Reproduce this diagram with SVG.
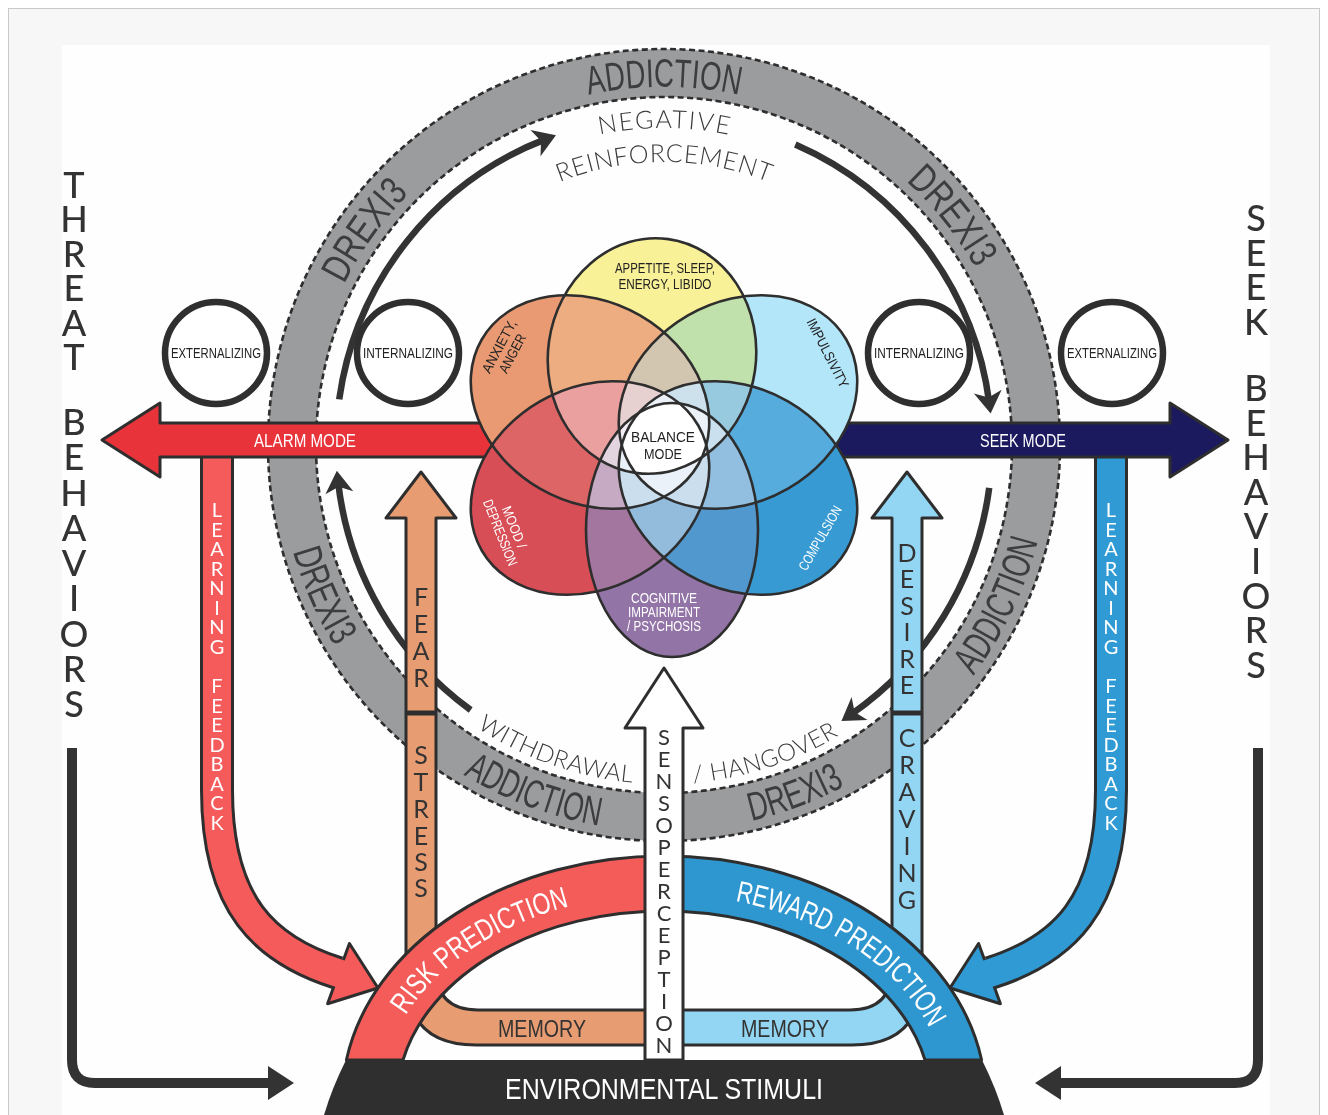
<svg xmlns="http://www.w3.org/2000/svg" width="1328" height="1115" viewBox="0 0 1328 1115">
<style>
  .cond{font-family:"Liberation Sans Narrow","Liberation Sans","DejaVu Sans Condensed",Roboto,sans-serif;font-stretch:condensed}
  .thin{font-family:Lato,"Open Sans","DejaVu Sans",sans-serif;font-weight:300;fill:#3a3a3a}
  .stack{font-family:Lato,"Liberation Sans","DejaVu Sans",sans-serif;text-anchor:middle}
  .big{font-weight:500}
  .ringtxt{fill:#3d3d3e;font-size:40px;text-anchor:middle}
  .out{stroke:#2e2e2e;stroke-width:3;stroke-linejoin:round}
  .edge{fill:none;stroke:#2e2e2e;stroke-width:2.6}
  .dash{fill:none;stroke:#2e2e2e;stroke-width:2.6;stroke-dasharray:6 3.5}
  .circ{fill:#fff;stroke:#2f2f2f;stroke-width:6.5}
  .arc{fill:none;stroke:#333;stroke-width:6.5;marker-end:url(#ah)}
  .ptxt{font-size:14px;text-anchor:middle;fill:#222}
  .wtxt{font-size:14px;text-anchor:middle;fill:#fff}
  .white{fill:#fff}
  .mid{text-anchor:middle}
</style>
<defs>
  <marker id="ah" markerUnits="userSpaceOnUse" markerWidth="40" markerHeight="40" viewBox="-20 -20 40 40" refX="0" refY="0" orient="auto" overflow="visible">
    <path d="M11,0 L-11,-14 L-5,0 L-11,14 Z" fill="#333"/>
  </marker>
  <!-- text paths around the ring (centre 664,445) -->
  <path id="cw358" d="M306,445 A358 358 0 1 1 1022,445 A358 358 0 1 1 306,445"/>
  <path id="ccw386" d="M278,445 A386 386 0 1 0 1050,445 A386 386 0 1 0 278,445"/>
  <path id="cw317" d="M347,445 A317 317 0 1 1 981,445 A317 317 0 1 1 347,445"/>
  <path id="cw283" d="M381,445 A283 283 0 1 1 947,445 A283 283 0 1 1 381,445"/>
  <path id="ccw339" d="M325,445 A339 339 0 1 0 1003,445 A339 339 0 1 0 325,445"/>
  <!-- path along the prediction arch -->
  <path id="arch" d="M380.5,1100 A283.5 205.5 0 0 1 947.5,1100"/>
  <!-- flower petals -->
  <ellipse id="eY" cx="652" cy="356" rx="118" ry="104" transform="rotate(-82 652 356)"/>
  <ellipse id="eB" cx="738" cy="402" rx="125" ry="100" transform="rotate(-30 738 402)"/>
  <ellipse id="eC" cx="738" cy="488" rx="125" ry="100" transform="rotate(30 738 488)"/>
  <ellipse id="eP" cx="672" cy="530" rx="127" ry="86" transform="rotate(90 672 530)"/>
  <ellipse id="eR" cx="590" cy="488" rx="125" ry="100" transform="rotate(-30 590 488)"/>
  <ellipse id="eO" cx="590" cy="402" rx="125" ry="100" transform="rotate(30 590 402)"/>
  <clipPath id="cY"><use href="#eY"/></clipPath>
  <clipPath id="cB"><use href="#eB"/></clipPath>
  <clipPath id="cC"><use href="#eC"/></clipPath>
  <clipPath id="cP"><use href="#eP"/></clipPath>
  <clipPath id="cR"><use href="#eR"/></clipPath>
</defs>

<!-- page -->
<rect width="1328" height="1115" fill="#fff"/>
<rect x="8.5" y="8.5" width="1311" height="1120" fill="#f7f7f7" stroke="#c9c9c9"/>
<rect x="62" y="45" width="1208" height="1075" fill="#fefefe"/>

<!-- addiction ring -->
<g id="ring">
  <circle cx="664" cy="445" r="372" fill="none" stroke="#9b9c9e" stroke-width="48"/>
  <circle class="dash" cx="664" cy="445" r="396"/>
  <circle class="dash" cx="664" cy="445" r="348"/>
  <text class="cond ringtxt" textLength="112" lengthAdjust="spacingAndGlyphs"><textPath href="#cw358" startOffset="9.9%">DREXI3</textPath></text>
  <text class="cond ringtxt" textLength="152" lengthAdjust="spacingAndGlyphs"><textPath href="#cw358" startOffset="25%">ADDICTION</textPath></text>
  <text class="cond ringtxt" textLength="112" lengthAdjust="spacingAndGlyphs"><textPath href="#cw358" startOffset="39.3%">DREXI3</textPath></text>
  <text class="cond ringtxt" textLength="104" lengthAdjust="spacingAndGlyphs"><textPath href="#ccw386" startOffset="6.6%">DREXI3</textPath></text>
  <text class="cond ringtxt" textLength="146" lengthAdjust="spacingAndGlyphs"><textPath href="#ccw386" startOffset="19.3%">ADDICTION</textPath></text>
  <text class="cond ringtxt" textLength="100" lengthAdjust="spacingAndGlyphs"><textPath href="#ccw386" startOffset="30.7%">DREXI3</textPath></text>
  <text class="cond ringtxt" textLength="150" lengthAdjust="spacingAndGlyphs"><textPath href="#ccw386" startOffset="42.9%">ADDICTION</textPath></text>
</g>

<!-- reinforcement cycle -->
<g id="cycle">
  <path class="arc" d="M339.2,399.4 A328 328 0 0 1 545.7,139.1"/>
  <path class="arc" d="M795.3,144.5 A328 328 0 0 1 989.2,402.5"/>
  <path class="arc" d="M989.2,487.8 A328 328 0 0 1 850.5,714.8"/>
  <path class="arc" d="M470.7,710 A328 328 0 0 1 338.1,481.8"/>
  <text class="thin mid" font-size="25" textLength="130"><textPath href="#cw317" startOffset="25%">NEGATIVE</textPath></text>
  <text class="thin mid" font-size="25" textLength="214"><textPath href="#cw283" startOffset="25%">REINFORCEMENT</textPath></text>
  <text class="thin mid" font-size="24" textLength="166"><textPath href="#ccw339" startOffset="19.6%">WITHDRAWAL</textPath></text>
  <text class="thin mid" font-size="24" textLength="154"><textPath href="#ccw339" startOffset="30%">/ HANGOVER</textPath></text>
</g>

<!-- learning feedback loops -->
<g id="learning-left">
  <path d="M217,455 L217,790 C217,905 265,950 338,973" fill="none" stroke="#2e2e2e" stroke-width="34"/>
  <path d="M378,988 L349.4,943.5 L327.6,1003.7 Z" fill="#f45b5a" class="out"/>
  <path d="M217,455 L217,790 C217,905 265,950 338,973 L346,975.5" fill="none" stroke="#f45b5a" stroke-width="28"/>
  <text class="stack white" font-size="20" x="217 217 217 217 217 217 217 217 217 217 217 217 217 217 217 217" y="517 536.5 556 575.5 595 614.5 634 653.5 693 712.5 732 751.5 771 790.5 810 829.5">LEARNINGFEEDBACK</text>
</g>
<g id="learning-right">
  <path d="M1111,455 L1111,790 C1111,905 1063,950 990,973" fill="none" stroke="#2e2e2e" stroke-width="34"/>
  <path d="M950,988 L978.6,943.5 L1000.4,1003.7 Z" fill="#2f9ad3" class="out"/>
  <path d="M1111,455 L1111,790 C1111,905 1063,950 990,973 L982,975.5" fill="none" stroke="#2f9ad3" stroke-width="28"/>
  <text class="stack white" font-size="20" x="1111 1111 1111 1111 1111 1111 1111 1111 1111 1111 1111 1111 1111 1111 1111 1111" y="517 536.5 556 575.5 595 614.5 634 653.5 693 712.5 732 751.5 771 790.5 810 829.5">LEARNINGFEEDBACK</text>
</g>

<!-- mode arrows -->
<g id="alarm-mode">
  <path d="M102,440 L160,403 L160,423 L497,423 L497,457 L160,457 L160,477 Z" fill="#e8333b" class="out"/>
  <text class="cond white mid" x="305" y="447" font-size="18" textLength="102" lengthAdjust="spacingAndGlyphs">ALARM MODE</text>
</g>
<g id="seek-mode">
  <path d="M1228,440 L1170,403 L1170,423 L830,423 L830,457 L1170,457 L1170,477 Z" fill="#1b1a5e" class="out"/>
  <text class="cond white mid" x="1023" y="447" font-size="18" textLength="86" lengthAdjust="spacingAndGlyphs">SEEK MODE</text>
</g>

<!-- symptom flower -->
<g id="flower">
  <use href="#eY" fill="#fff"/><use href="#eB" fill="#fff"/><use href="#eC" fill="#fff"/>
  <use href="#eP" fill="#fff"/><use href="#eR" fill="#fff"/><use href="#eO" fill="#fff"/>
  <use href="#eY" fill="#f8ee7e" fill-opacity=".8"/>
  <use href="#eO" fill="#e48150" fill-opacity=".8"/>
  <use href="#eR" fill="#ce222c" fill-opacity=".8"/>
  <use href="#eB" fill="#9adef6" fill-opacity=".75" style="mix-blend-mode:multiply"/>
  <use href="#eP" fill="#775191" fill-opacity=".8"/>
  <use href="#eC" fill="#007ec7" fill-opacity=".78"/>
  <!-- overlaps get paler toward the middle -->
  <g fill="#fff" fill-opacity=".22">
    <g clip-path="url(#cY)"><use href="#eB"/><use href="#eC"/><use href="#eP"/><use href="#eR"/><use href="#eO"/></g>
    <g clip-path="url(#cB)"><use href="#eC"/><use href="#eP"/><use href="#eR"/><use href="#eO"/></g>
    <g clip-path="url(#cC)"><use href="#eP"/><use href="#eR"/><use href="#eO"/></g>
    <g clip-path="url(#cP)"><use href="#eR"/><use href="#eO"/></g>
    <g clip-path="url(#cR)"><use href="#eO"/></g>
  </g>
  <g clip-path="url(#cY)"><g clip-path="url(#cB)"><g clip-path="url(#cC)"><g clip-path="url(#cP)"><g clip-path="url(#cR)"><use href="#eO" fill="#fff"/></g></g></g></g></g>
  <use href="#eY" class="edge"/><use href="#eB" class="edge"/><use href="#eC" class="edge"/>
  <use href="#eP" class="edge"/><use href="#eR" class="edge"/><use href="#eO" class="edge"/>
  <text class="cond ptxt" x="665" y="273" font-size="15" textLength="100" lengthAdjust="spacingAndGlyphs">APPETITE, SLEEP,</text>
  <text class="cond ptxt" x="665" y="289" font-size="15" textLength="93" lengthAdjust="spacingAndGlyphs">ENERGY, LIBIDO</text>
  <g transform="translate(506 350) rotate(-62)">
    <text class="cond ptxt" x="0" y="-3" textLength="58" lengthAdjust="spacingAndGlyphs">ANXIETY,</text>
    <text class="cond ptxt" x="0" y="12" textLength="42" lengthAdjust="spacingAndGlyphs">ANGER</text>
  </g>
  <text class="cond ptxt" transform="translate(828 353) rotate(63)" x="0" y="5" textLength="76" lengthAdjust="spacingAndGlyphs">IMPULSIVITY</text>
  <g transform="translate(507 530) rotate(68)">
    <text class="cond wtxt" x="0" y="-3" textLength="44" lengthAdjust="spacingAndGlyphs">MOOD /</text>
    <text class="cond wtxt" x="0" y="12" textLength="70" lengthAdjust="spacingAndGlyphs">DEPRESSION</text>
  </g>
  <text class="cond wtxt" transform="translate(820 538) rotate(-60)" x="0" y="5" textLength="72" lengthAdjust="spacingAndGlyphs">COMPULSION</text>
  <text class="cond wtxt" x="664" y="603" textLength="66" lengthAdjust="spacingAndGlyphs">COGNITIVE</text>
  <text class="cond wtxt" x="664" y="617" textLength="72" lengthAdjust="spacingAndGlyphs">IMPAIRMENT</text>
  <text class="cond wtxt" x="664" y="631" textLength="74" lengthAdjust="spacingAndGlyphs">/ PSYCHOSIS</text>
  <text class="cond ptxt" x="663" y="442" font-size="16" textLength="64" lengthAdjust="spacingAndGlyphs">BALANCE</text>
  <text class="cond ptxt" x="663" y="459" font-size="16" textLength="38" lengthAdjust="spacingAndGlyphs">MODE</text>
</g>

<!-- fear / stress and memory -->
<g id="fear-stress">
  <path d="M421,472 L456,518 L436,518 L436,968 Q436,1010 478,1010 L646,1010 L646,1045 L476,1045 Q406,1045 406,975 L406,518 L386,518 Z" fill="#e89c72" class="out"/>
  <line x1="406" y1="713" x2="436" y2="713" stroke="#2e2e2e" stroke-width="5"/>
  <text class="stack" font-size="25" fill="#333" x="421 421 421 421" y="606 633 660 687">FEAR</text>
  <text class="stack" font-size="25" fill="#333" x="421 421 421 421 421 421" y="764 791 818 845 871 897">STRESS</text>
  <text class="cond mid" x="542" y="1037" font-size="24" fill="#333" textLength="88" lengthAdjust="spacingAndGlyphs">MEMORY</text>
</g>
<g id="desire-craving">
  <path d="M907,472 L942,518 L922,518 L922,975 Q922,1045 852,1045 L682,1045 L682,1010 L850,1010 Q892,1010 892,968 L892,518 L872,518 Z" fill="#93d6f3" class="out"/>
  <line x1="892" y1="713" x2="922" y2="713" stroke="#2e2e2e" stroke-width="5"/>
  <text class="stack" font-size="25" fill="#333" x="907 907 907 907 907 907" y="562 588 615 641 668 694">DESIRE</text>
  <text class="stack" font-size="25" fill="#333" x="907 907 907 907 907 907 907" y="747 774 801 828 855 882 909">CRAVING</text>
  <text class="cond mid" x="785" y="1037" font-size="24" fill="#333" textLength="88" lengthAdjust="spacingAndGlyphs">MEMORY</text>
</g>

<!-- prediction arch -->
<g id="risk-prediction">
  <path d="M346.4,1060 A322 244 0 0 1 664,856 L664,911 A267 189 0 0 0 403,1060 Z" fill="#f45c5a" class="out"/>
  <text class="cond white mid" font-size="30" textLength="201" lengthAdjust="spacingAndGlyphs"><textPath href="#arch" startOffset="24.6%">RISK PREDICTION</textPath></text>
</g>
<g id="reward-prediction">
  <path d="M981.6,1060 A322 244 0 0 0 664,856 L664,911 A267 189 0 0 1 925,1060 Z" fill="#2e97d0" class="out"/>
  <text class="cond white mid" font-size="30" textLength="240" lengthAdjust="spacingAndGlyphs"><textPath href="#arch" startOffset="74.8%">REWARD PREDICTION</textPath></text>
</g>

<!-- sensoperception -->
<g id="sensoperception">
  <path d="M664,668 L703,728 L683,728 L683,1060 L645,1060 L645,728 L625,728 Z" fill="#fff" class="out"/>
  <text class="stack" font-size="22" fill="#333" x="664 664 664 664 664 664 664 664 664 664 664 664 664 664 664" y="745 767 789 811 833 855 877 899 921 943 965 987 1009 1031 1053">SENSOPERCEPTION</text>
</g>

<!-- environmental stimuli -->
<g id="environment">
  <path d="M346,1060 L982,1060 Q996,1088 1004,1115 L324,1115 Q332,1088 346,1060 Z" fill="#2f2f2f"/>
  <text class="cond white mid" x="664" y="1099" font-size="30" textLength="318" lengthAdjust="spacingAndGlyphs">ENVIRONMENTAL STIMULI</text>
</g>

<!-- behaviour outputs -->
<g id="threat-behaviors">
  <text class="stack big" font-size="36" fill="#333" x="74 74 74 74 74 74 74 74 74 74 74 74 74 74 74" y="198 232.4 266.8 301.2 335.6 370 435 470 505.5 541 576 611 646.5 682 717">THREATBEHAVIORS</text>
  <path d="M72,748 L72,1060 Q72,1083 95,1083 L272,1083" fill="none" stroke="#333" stroke-width="10"/>
  <path d="M294,1083 L268,1066 L268,1100 Z" fill="#333"/>
</g>
<g id="seek-behaviors">
  <text class="stack big" font-size="36" fill="#333" x="1256 1256 1256 1256 1256 1256 1256 1256 1256 1256 1256 1256 1256" y="231 265.7 300.4 335 401 435.6 470.2 504.8 539.4 574 608.6 643.2 677.8">SEEKBEHAVIORS</text>
  <path d="M1258,748 L1258,1060 Q1258,1083 1235,1083 L1058,1083" fill="none" stroke="#333" stroke-width="10"/>
  <path d="M1035,1083 L1061,1066 L1061,1100 Z" fill="#333"/>
</g>

<!-- internalizing / externalizing -->
<g id="ext-left"><circle class="circ" cx="216" cy="353" r="51"/><text class="cond ptxt" x="216" y="358" textLength="90" lengthAdjust="spacingAndGlyphs">EXTERNALIZING</text></g>
<g id="int-left"><circle class="circ" cx="408" cy="353" r="51"/><text class="cond ptxt" x="408" y="358" textLength="90" lengthAdjust="spacingAndGlyphs">INTERNALIZING</text></g>
<g id="int-right"><circle class="circ" cx="919" cy="353" r="51"/><text class="cond ptxt" x="919" y="358" textLength="90" lengthAdjust="spacingAndGlyphs">INTERNALIZING</text></g>
<g id="ext-right"><circle class="circ" cx="1112" cy="353" r="51"/><text class="cond ptxt" x="1112" y="358" textLength="90" lengthAdjust="spacingAndGlyphs">EXTERNALIZING</text></g>
</svg>
